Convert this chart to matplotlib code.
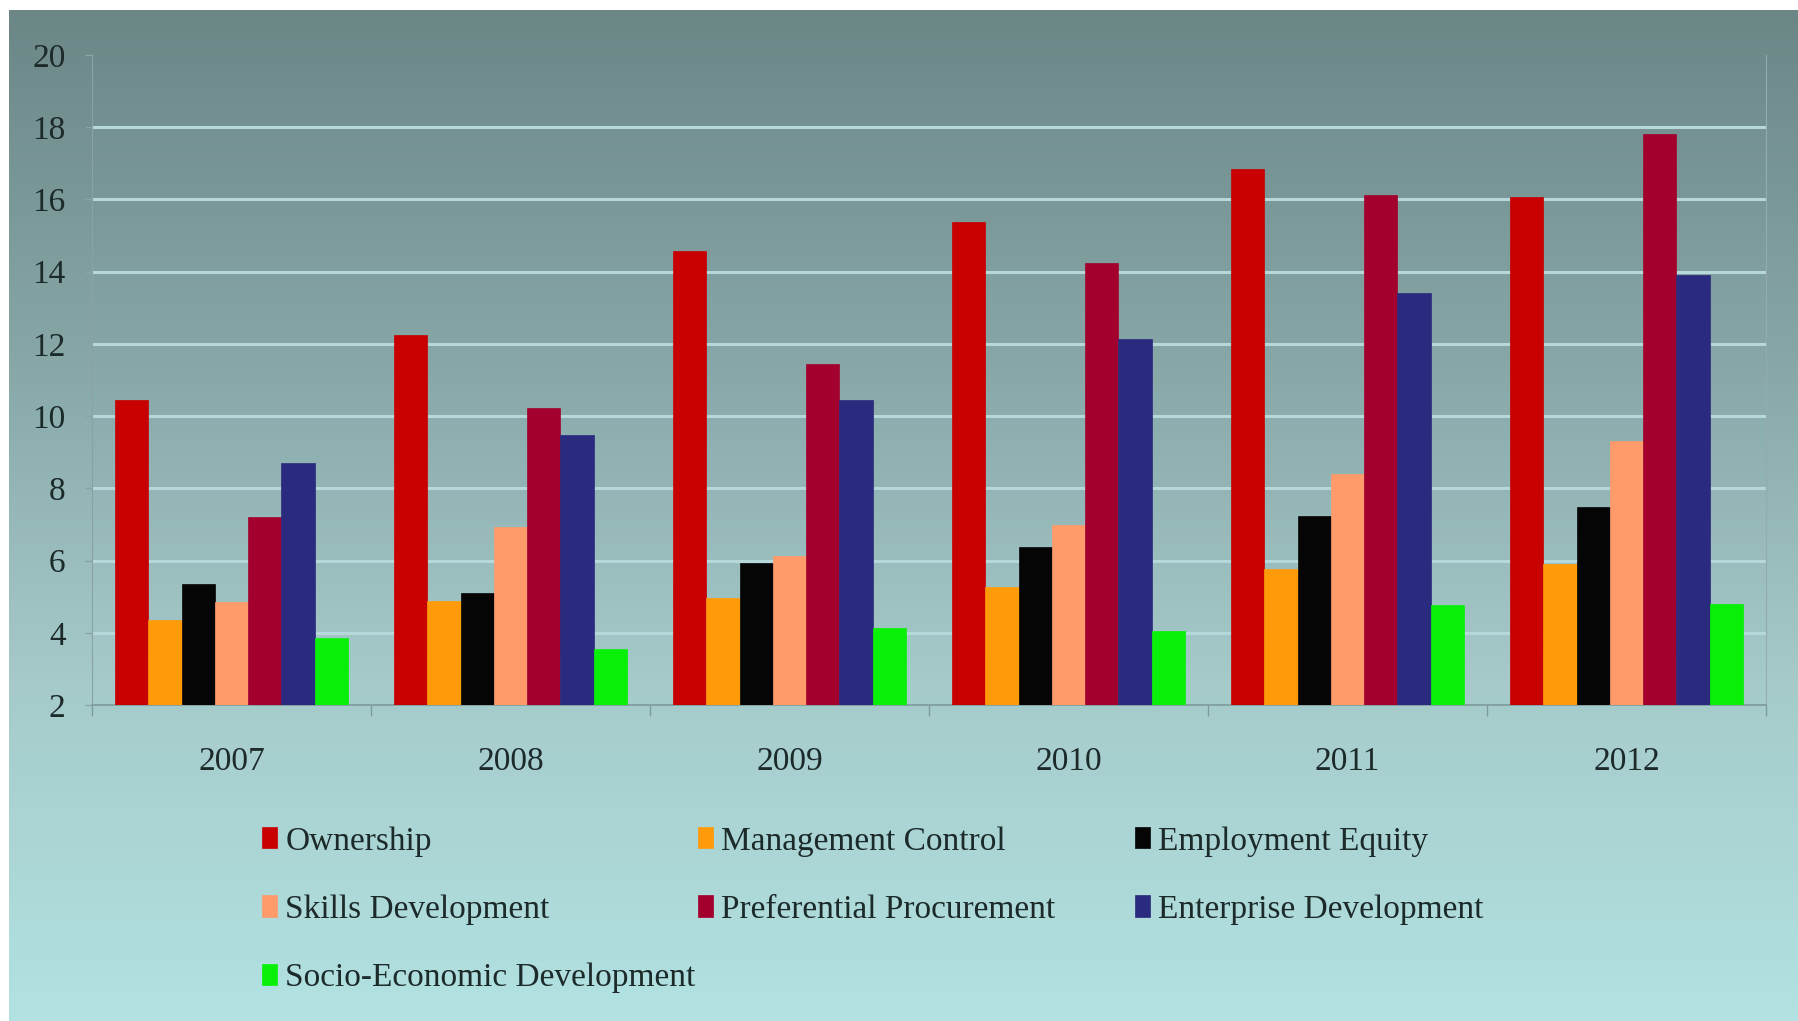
import numpy as np
import matplotlib
matplotlib.use("Agg")
from matplotlib import pyplot as plt
from matplotlib.colors import LinearSegmentedColormap

plt.rcParams['font.family'] = ['Liberation Serif', 'DejaVu Serif']

# data
years = ['2007', '2008', '2009', '2010', '2011', '2012']
series = ['Ownership', 'Management Control', 'Employment Equity',
          'Skills Development', 'Preferential Procurement',
          'Enterprise Development', 'Socio-Economic Development']
ownership = [10.45, 12.25, 14.57, 15.37, 16.83, 16.06]
management = [4.35, 4.88, 4.95, 5.27, 5.78, 5.90]
employment = [5.35, 5.11, 5.94, 6.38, 7.24, 7.49]
skills = [4.85, 6.92, 6.13, 6.98, 8.41, 9.30]
preferential = [7.20, 10.22, 11.43, 14.25, 16.13, 17.81]
enterprise = [8.70, 9.47, 10.44, 12.13, 13.40, 13.90]
socio = [3.85, 3.56, 4.13, 4.06, 4.76, 4.79]
values = [ownership, management, employment, skills, preferential, enterprise, socio]
colors = ['#c80000', '#ff9a08', '#050505', '#ff9a6a', '#a3002e', '#2a2a7e', '#08f008']

W, H = 1798, 1021
fig = plt.figure(figsize=(W / 100, H / 100), dpi=100)
fig.patch.set_facecolor('white')

# gradient background (white strip at top and left)
bg = fig.add_axes([9 / W, 0, 1 - 9 / W, 1 - 10 / H], zorder=0)
cmap = LinearSegmentedColormap.from_list('bg', ['#6c8686', '#86a6a6', '#a6caca', '#b2e2e2'])
grad = np.linspace(0, 1, 256).reshape(-1, 1)
bg.imshow(grad, aspect='auto', cmap=cmap, extent=[0, 1, 0, 1], origin='upper')
bg.axis('off')

ax = fig.add_axes([92 / W, 1 - 705 / H, (1766 - 92) / W, 650 / H], zorder=1)
ax.patch.set_alpha(0)

x = np.arange(len(years))
n = len(series)
bw = 0.835 / n
bars = []
for i, (name, vals, c) in enumerate(zip(series, values, colors)):
    b = ax.bar(x - 0.835 / 2 + bw * (i + 0.5), np.array(vals) - 2, bw, bottom=2,
               color=c, edgecolor=c, linewidth=0.5, label=name, zorder=3)
    bars.append(b)

ax.set_xlim(-0.5, len(years) - 0.5)
ax.set_ylim(2, 20)
ax.set_yticks(range(2, 21, 2))
for v in range(4, 20, 2):
    ax.axhline(v, color='#b6d8da', lw=2.2, zorder=1)

ax.set_xticks(x)
ax.set_xticklabels(years)
ax.set_xticks(np.arange(-0.5, len(years)), minor=True)
ax.tick_params(axis='x', which='major', length=0, pad=30, labelsize=24, labelcolor='#1c2a2a')
ax.tick_params(axis='x', which='minor', length=8, width=1, color='#7f9a9c', direction='out')
ax.tick_params(axis='y', length=5, width=1, color='#8aa4a4', pad=14, labelsize=24,
               labelcolor='#1c2a2a')

ax.spines['top'].set_visible(False)
ax.spines['left'].set_color('#8aa2a4')
ax.spines['right'].set_color('#93adae')
ax.spines['bottom'].set_color('#7f9a9c')
ax.spines['bottom'].set_linewidth(1.2)

# legend: three columns, filled row by row
col_x = [262, 698, 1135]
for c in range(3):
    idx = [i for i in range(n) if i % 3 == c]
    fig.legend([bars[i] for i in idx], [series[i] for i in idx],
               loc='upper left', bbox_to_anchor=(col_x[c] / W, 1 - 826 / H),
               frameon=False, fontsize=24, labelcolor='#1c2a2a',
               handlelength=0.45, handleheight=0.6, handletextpad=0.25,
               labelspacing=1.13, borderpad=0, borderaxespad=0)

fig.savefig('out.png', dpi=100)
